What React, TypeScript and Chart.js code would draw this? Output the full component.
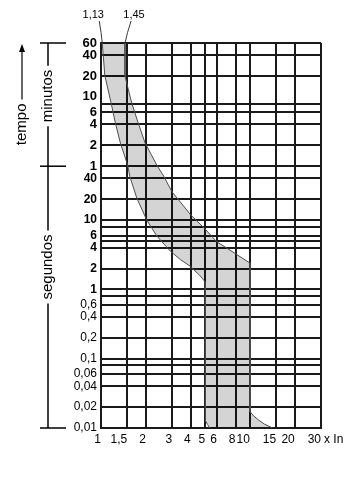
import React, { useEffect, useRef } from "react";
import { Chart, registerables } from "chart.js";

Chart.register(...registerables);

// Current axis (multiples of In)
const xTickValues = [1, 1.5, 2, 3, 4, 5, 6, 8, 10, 15, 20, 30];
const xTickLabels = ["1", "1,5", "2", "3", "4", "5", "6", "8", "10", "15", "20", "30"];

// Time axis (seconds); labels above 60 s are minutes
const yTickValues = [3600, 2400, 1200, 600, 480, 360, 240, 120, 60, 40, 20, 10, 8, 6, 5, 4, 2, 1, 0.8, 0.6, 0.4, 0.2, 0.1, 0.08, 0.06, 0.04, 0.02, 0.01];
const yTickLabels = ["60", "40", "20", "10", "", "6", "4", "2", "1", "40", "20", "10", "", "6", "", "4", "2", "1", "", "0,6", "0,4", "0,2", "0,1", "", "0,06", "0,04", "0,02", "0,01"];
const yGridValues = [3600, 2400, 1200, 480, 360, 240, 120, 60, 40, 20, 10, 8, 6, 5, 4, 2, 1, 0.8, 0.6, 0.4, 0.2, 0.1, 0.08, 0.06, 0.04, 0.02, 0.01];

// Lower boundary of the tripping band (min. tripping time curve)
const minCurveX = [1.02, 1.06, 1.17, 1.25, 1.35, 1.51, 1.56, 1.74, 2.03, 2.37, 2.92, 3.43, 4.0, 4.59, 5.0, 5.0, 5.05, 5.2, 5.36];
const minCurveY = [3600, 1230, 486, 250, 129, 62, 43, 20.7, 10, 5.9, 3.57, 2.67, 2.14, 1.6, 1.29, 0.0147, 0.0127, 0.0112, 0.01];

// Upper boundary of the tripping band (max. tripping time curve)
const maxCurveX = [1.45, 1.45, 1.61, 1.78, 1.98, 2.1, 2.37, 2.64, 3.0, 3.45, 4.0, 4.95, 5.97, 7.96, 10, 10, 10.6, 11.45, 12.5, 14.2];
const maxCurveY = [3600, 1190, 486, 250, 129, 102, 62, 43, 25.5, 17.7, 11.9, 7.6, 4.9, 3.3, 2.4, 0.0172, 0.0149, 0.013, 0.0114, 0.01];

const topLabels = ["1,13", "1,45"];

const FONT = '"Liberation Sans", Arial, sans-serif';

const minPts = minCurveX.map((x, i) => ({ x, y: minCurveY[i] }));
const maxPts = maxCurveX.map((x, i) => ({ x, y: maxCurveY[i] }));
const bandPolygon = [...minPts, ...[...maxPts].reverse()];

const decorPlugin = {
  id: "decor",
  afterDraw(chart: any) {
    const { ctx, chartArea, scales } = chart;
    const xs = scales.x;
    const ys = scales.y;
    const L = chartArea.left;
    const top = ys.getPixelForValue(3600);
    const mid = ys.getPixelForValue(60);
    const bot = ys.getPixelForValue(0.01);

    const line = (x1: number, y1: number, x2: number, y2: number) => {
      ctx.beginPath();
      ctx.moveTo(x1, y1);
      ctx.lineTo(x2, y2);
      ctx.stroke();
    };
    const vText = (t: string, x: number, cy: number) => {
      ctx.save();
      ctx.translate(x, cy);
      ctx.rotate(-Math.PI / 2);
      ctx.textAlign = "center";
      ctx.textBaseline = "middle";
      ctx.fillText(t, 0, 0);
      ctx.restore();
    };

    ctx.save();
    ctx.strokeStyle = "#000";
    ctx.fillStyle = "#000";
    ctx.lineWidth = 1.5;

    // bracket bars
    for (const y of [top, mid, bot]) line(L - 61, y, L - 35, y);

    ctx.font = `15px ${FONT}`;
    const bx = L - 53;
    // minutos
    const mc = top + (mid - top) * 0.43;
    const mw = ctx.measureText("minutos").width;
    line(bx, top, bx, mc - mw / 2 - 4);
    line(bx, mc + mw / 2 + 4, bx, mid);
    vText("minutos", bx, mc);
    // segundos
    const sc = mid + (bot - mid) * 0.385;
    const sw = ctx.measureText("segundos").width;
    line(bx, mid, bx, sc - sw / 2 - 4);
    line(bx, sc + sw / 2 + 4, bx, bot);
    vText("segundos", bx, sc);

    // tempo with arrow
    const tx = L - 79;
    const tc = top + (mid - top) * 0.66;
    const tw = ctx.measureText("tempo").width;
    ctx.lineWidth = 1.2;
    line(tx, tc - tw / 2 - 4, tx, top + 6);
    ctx.beginPath();
    ctx.moveTo(tx, top + 1);
    ctx.lineTo(tx - 3, top + 9);
    ctx.lineTo(tx + 3, top + 9);
    ctx.closePath();
    ctx.fill();
    vText("tempo", tx, tc);

    // corrente with arrow
    const R = chartArea.right;
    const cy = xs.bottom + 13;
    ctx.textAlign = "right";
    ctx.textBaseline = "middle";
    ctx.fillText("corrente", R - 44, cy);
    line(R - 41, cy, R - 6, cy);
    ctx.beginPath();
    ctx.moveTo(R, cy);
    ctx.lineTo(R - 9, cy - 3);
    ctx.lineTo(R - 9, cy + 3);
    ctx.closePath();
    ctx.fill();

    // "x In" after the last tick label
    ctx.font = `12px ${FONT}`;
    ctx.textAlign = "left";
    ctx.textBaseline = "middle";
    ctx.fillText("x In", xs.getPixelForValue(30) + 3, xs.top + 12);

    // annotations 1,13 and 1,45
    const p1x = xs.getPixelForValue(minCurveX[0]);
    const p2x = xs.getPixelForValue(maxCurveX[0]);
    ctx.font = `11px ${FONT}`;
    ctx.textAlign = "center";
    ctx.textBaseline = "middle";
    ctx.fillText(topLabels[0], p1x - 9, top - 28);
    ctx.fillText(topLabels[1], p2x + 9, top - 28);
    ctx.lineWidth = 0.9;
    ctx.strokeStyle = "#222";
    ctx.beginPath();
    ctx.moveTo(p1x - 3, top - 22);
    ctx.quadraticCurveTo(p1x - 1, top - 10, p1x, top);
    ctx.stroke();
    ctx.beginPath();
    ctx.moveTo(p2x + 6, top - 22);
    ctx.quadraticCurveTo(p2x + 2, top - 10, p2x, top);
    ctx.stroke();

    ctx.restore();
  },
};

export default function App() {
  const ref = useRef<HTMLCanvasElement>(null);

  useEffect(() => {
    const canvas = ref.current;
    if (!canvas) return;
    const chart = new Chart(canvas, {
      type: "scatter",
      data: {
        datasets: [
          {
            data: bandPolygon,
            showLine: true,
            fill: "shape",
            backgroundColor: "rgba(0,0,0,0.17)",
            borderColor: "rgba(0,0,0,0)",
            borderWidth: 0,
            pointRadius: 0,
          },
          {
            data: minPts,
            showLine: true,
            fill: false,
            borderColor: "#555",
            borderWidth: 1,
            pointRadius: 0,
          },
          {
            data: maxPts,
            showLine: true,
            fill: false,
            borderColor: "#555",
            borderWidth: 1,
            pointRadius: 0,
          },
        ],
      } as any,
      options: {
        responsive: false,
        animation: false,
        events: [],
        layout: { padding: { top: 35, right: 25, left: 0, bottom: 0 } },
        plugins: {
          legend: { display: false },
          tooltip: { enabled: false },
        },
        scales: {
          x: {
            type: "logarithmic",
            min: 1,
            max: 30,
            afterBuildTicks: (scale: any) => {
              scale.ticks = xTickValues.map((v) => ({ value: v }));
            },
            afterFit: (scale: any) => {
              scale.height = 41;
            },
            ticks: {
              autoSkip: false,
              maxRotation: 0,
              minRotation: 0,
              align: "end",
              padding: 4,
              color: "#000",
              font: { family: FONT, size: 12 },
              callback: (v: any) => {
                const i = xTickValues.indexOf(Number(v));
                return i >= 0 ? xTickLabels[i] : "";
              },
            },
            grid: {
              color: "#1a1a1a",
              lineWidth: 2,
              drawTicks: false,
            },
            border: { color: "#1a1a1a", width: 2 },
          },
          y: {
            type: "logarithmic",
            min: 0.01,
            max: 3600,
            afterBuildTicks: (scale: any) => {
              scale.ticks = yTickValues.map((v) => ({ value: v }));
            },
            afterFit: (scale: any) => {
              scale.width = 93;
            },
            ticks: {
              autoSkip: false,
              padding: 4,
              color: "#000",
              font: (c: any) => {
                const v = c.tick ? c.tick.value : 0;
                return { family: FONT, size: v >= 60 ? 13 : 12, weight: v >= 1 ? "bold" : "normal" };
              },
              callback: (v: any) => {
                const i = yTickValues.indexOf(Number(v));
                return i >= 0 ? yTickLabels[i] : "";
              },
            },
            grid: {
              color: (c: any) => (c.tick && yGridValues.includes(c.tick.value) ? "#1a1a1a" : "rgba(0,0,0,0)"),
              lineWidth: 2,
              drawTicks: false,
            },
            border: { color: "#1a1a1a", width: 2 },
          },
        },
      } as any,
      plugins: [decorPlugin],
    });
    return () => chart.destroy();
  }, []);

  return (
    <canvas
      ref={ref}
      width={338}
      height={461}
      style={{ display: "block", width: 338, height: 461 }}
    />
  );
}
